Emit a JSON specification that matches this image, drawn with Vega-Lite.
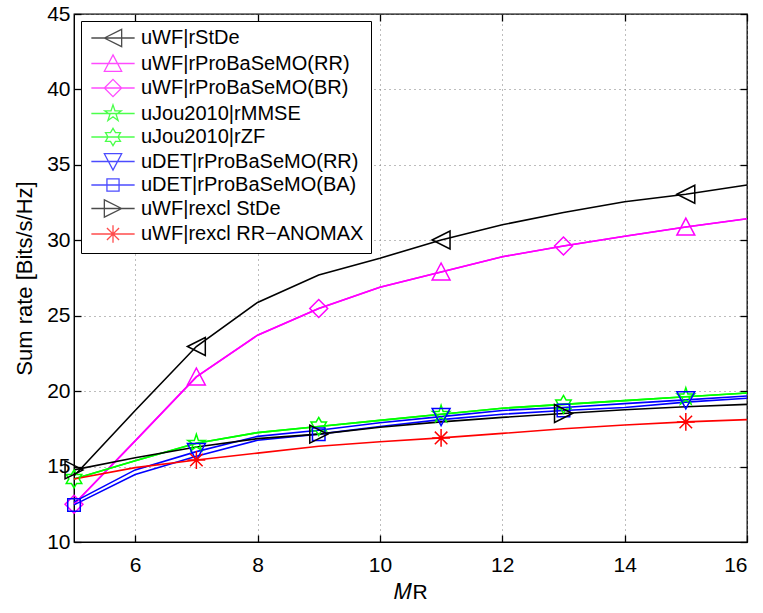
{
  "$schema": "https://vega.github.io/schema/vega-lite/v6.json",
  "width": 673,
  "height": 528,
  "autosize": {"type": "none"},
  "padding": {"left": 74, "top": 14, "right": 16, "bottom": 71},
  "background": "white",
  "config": {
    "font": "Liberation Sans",
    "view": {"stroke": "black", "strokeWidth": 1.3},
    "axis": {
      "labelFont": "Liberation Sans",
      "labelFontSize": 21,
      "labelColor": "black",
      "titleFont": "Liberation Sans",
      "titleFontSize": 21,
      "titleFontWeight": "normal",
      "titleColor": "black",
      "domainColor": "black",
      "tickColor": "black",
      "tickSize": -7,
      "tickWidth": 1.3,
      "grid": true,
      "gridColor": "#7a7a7a",
      "gridDash": [1, 4],
      "gridWidth": 1
    },
    "legend": {
      "labelFont": "Liberation Sans",
      "labelFontSize": 20,
      "labelColor": "black",
      "labelLimit": 400
    }
  },
  "datasets": {
    "lines": [
      {"series": "uWF|rStDe", "x": 5, "y": 14.38}, {"series": "uWF|rStDe", "x": 6, "y": 18.72}, {"series": "uWF|rStDe", "x": 7, "y": 22.96}, {"series": "uWF|rStDe", "x": 8, "y": 25.88}, {"series": "uWF|rStDe", "x": 9, "y": 27.7}, {"series": "uWF|rStDe", "x": 10, "y": 28.81}, {"series": "uWF|rStDe", "x": 11, "y": 30.02}, {"series": "uWF|rStDe", "x": 12, "y": 31.03}, {"series": "uWF|rStDe", "x": 13, "y": 31.84}, {"series": "uWF|rStDe", "x": 14, "y": 32.55}, {"series": "uWF|rStDe", "x": 15, "y": 33.05}, {"series": "uWF|rStDe", "x": 16, "y": 33.66},
      {"series": "uWF|rProBaSeMO(RR)", "x": 5, "y": 12.5}, {"series": "uWF|rProBaSeMO(RR)", "x": 6, "y": 16.7}, {"series": "uWF|rProBaSeMO(RR)", "x": 7, "y": 20.94}, {"series": "uWF|rProBaSeMO(RR)", "x": 8, "y": 23.71}, {"series": "uWF|rProBaSeMO(RR)", "x": 9, "y": 25.48}, {"series": "uWF|rProBaSeMO(RR)", "x": 10, "y": 26.89}, {"series": "uWF|rProBaSeMO(RR)", "x": 11, "y": 27.9}, {"series": "uWF|rProBaSeMO(RR)", "x": 12, "y": 28.91}, {"series": "uWF|rProBaSeMO(RR)", "x": 13, "y": 29.62}, {"series": "uWF|rProBaSeMO(RR)", "x": 14, "y": 30.27}, {"series": "uWF|rProBaSeMO(RR)", "x": 15, "y": 30.88}, {"series": "uWF|rProBaSeMO(RR)", "x": 16, "y": 31.43},
      {"series": "uWF|rProBaSeMO(BR)", "x": 5, "y": 12.5}, {"series": "uWF|rProBaSeMO(BR)", "x": 6, "y": 16.7}, {"series": "uWF|rProBaSeMO(BR)", "x": 7, "y": 20.94}, {"series": "uWF|rProBaSeMO(BR)", "x": 8, "y": 23.71}, {"series": "uWF|rProBaSeMO(BR)", "x": 9, "y": 25.48}, {"series": "uWF|rProBaSeMO(BR)", "x": 10, "y": 26.89}, {"series": "uWF|rProBaSeMO(BR)", "x": 11, "y": 27.9}, {"series": "uWF|rProBaSeMO(BR)", "x": 12, "y": 28.91}, {"series": "uWF|rProBaSeMO(BR)", "x": 13, "y": 29.62}, {"series": "uWF|rProBaSeMO(BR)", "x": 14, "y": 30.27}, {"series": "uWF|rProBaSeMO(BR)", "x": 15, "y": 30.88}, {"series": "uWF|rProBaSeMO(BR)", "x": 16, "y": 31.43},
      {"series": "uJou2010|rMMSE", "x": 5, "y": 14.18}, {"series": "uJou2010|rMMSE", "x": 6, "y": 15.39}, {"series": "uJou2010|rMMSE", "x": 7, "y": 16.55}, {"series": "uJou2010|rMMSE", "x": 8, "y": 17.25}, {"series": "uJou2010|rMMSE", "x": 9, "y": 17.66}, {"series": "uJou2010|rMMSE", "x": 10, "y": 18.06}, {"series": "uJou2010|rMMSE", "x": 11, "y": 18.47}, {"series": "uJou2010|rMMSE", "x": 12, "y": 18.87}, {"series": "uJou2010|rMMSE", "x": 13, "y": 19.12}, {"series": "uJou2010|rMMSE", "x": 14, "y": 19.37}, {"series": "uJou2010|rMMSE", "x": 15, "y": 19.63}, {"series": "uJou2010|rMMSE", "x": 16, "y": 19.88},
      {"series": "uJou2010|rZF", "x": 5, "y": 14.18}, {"series": "uJou2010|rZF", "x": 6, "y": 15.39}, {"series": "uJou2010|rZF", "x": 7, "y": 16.55}, {"series": "uJou2010|rZF", "x": 8, "y": 17.25}, {"series": "uJou2010|rZF", "x": 9, "y": 17.66}, {"series": "uJou2010|rZF", "x": 10, "y": 18.06}, {"series": "uJou2010|rZF", "x": 11, "y": 18.47}, {"series": "uJou2010|rZF", "x": 12, "y": 18.87}, {"series": "uJou2010|rZF", "x": 13, "y": 19.12}, {"series": "uJou2010|rZF", "x": 14, "y": 19.37}, {"series": "uJou2010|rZF", "x": 15, "y": 19.63}, {"series": "uJou2010|rZF", "x": 16, "y": 19.88},
      {"series": "uDET|rProBaSeMO(RR)", "x": 5, "y": 12.66}, {"series": "uDET|rProBaSeMO(RR)", "x": 6, "y": 14.78}, {"series": "uDET|rProBaSeMO(RR)", "x": 7, "y": 15.99}, {"series": "uDET|rProBaSeMO(RR)", "x": 8, "y": 17.0}, {"series": "uDET|rProBaSeMO(RR)", "x": 9, "y": 17.41}, {"series": "uDET|rProBaSeMO(RR)", "x": 10, "y": 17.91}, {"series": "uDET|rProBaSeMO(RR)", "x": 11, "y": 18.31}, {"series": "uDET|rProBaSeMO(RR)", "x": 12, "y": 18.72}, {"series": "uDET|rProBaSeMO(RR)", "x": 13, "y": 18.92}, {"series": "uDET|rProBaSeMO(RR)", "x": 14, "y": 19.17}, {"series": "uDET|rProBaSeMO(RR)", "x": 15, "y": 19.42}, {"series": "uDET|rProBaSeMO(RR)", "x": 16, "y": 19.68},
      {"series": "uDET|rProBaSeMO(BA)", "x": 5, "y": 12.46}, {"series": "uDET|rProBaSeMO(BA)", "x": 6, "y": 14.48}, {"series": "uDET|rProBaSeMO(BA)", "x": 7, "y": 15.69}, {"series": "uDET|rProBaSeMO(BA)", "x": 8, "y": 16.75}, {"series": "uDET|rProBaSeMO(BA)", "x": 9, "y": 17.15}, {"series": "uDET|rProBaSeMO(BA)", "x": 10, "y": 17.66}, {"series": "uDET|rProBaSeMO(BA)", "x": 11, "y": 18.11}, {"series": "uDET|rProBaSeMO(BA)", "x": 12, "y": 18.47}, {"series": "uDET|rProBaSeMO(BA)", "x": 13, "y": 18.72}, {"series": "uDET|rProBaSeMO(BA)", "x": 14, "y": 18.92}, {"series": "uDET|rProBaSeMO(BA)", "x": 15, "y": 19.27}, {"series": "uDET|rProBaSeMO(BA)", "x": 16, "y": 19.53},
      {"series": "uWF|rexcl StDe", "x": 5, "y": 14.78}, {"series": "uWF|rexcl StDe", "x": 6, "y": 15.59}, {"series": "uWF|rexcl StDe", "x": 7, "y": 16.3}, {"series": "uWF|rexcl StDe", "x": 8, "y": 16.85}, {"series": "uWF|rexcl StDe", "x": 9, "y": 17.15}, {"series": "uWF|rexcl StDe", "x": 10, "y": 17.61}, {"series": "uWF|rexcl StDe", "x": 11, "y": 17.96}, {"series": "uWF|rexcl StDe", "x": 12, "y": 18.26}, {"series": "uWF|rexcl StDe", "x": 13, "y": 18.52}, {"series": "uWF|rexcl StDe", "x": 14, "y": 18.77}, {"series": "uWF|rexcl StDe", "x": 15, "y": 18.97}, {"series": "uWF|rexcl StDe", "x": 16, "y": 19.12},
      {"series": "uWF|rexcl RR−ANOMAX", "x": 5, "y": 14.18}, {"series": "uWF|rexcl RR−ANOMAX", "x": 6, "y": 14.93}, {"series": "uWF|rexcl RR−ANOMAX", "x": 7, "y": 15.44}, {"series": "uWF|rexcl RR−ANOMAX", "x": 8, "y": 15.89}, {"series": "uWF|rexcl RR−ANOMAX", "x": 9, "y": 16.35}, {"series": "uWF|rexcl RR−ANOMAX", "x": 10, "y": 16.65}, {"series": "uWF|rexcl RR−ANOMAX", "x": 11, "y": 16.9}, {"series": "uWF|rexcl RR−ANOMAX", "x": 12, "y": 17.2}, {"series": "uWF|rexcl RR−ANOMAX", "x": 13, "y": 17.51}, {"series": "uWF|rexcl RR−ANOMAX", "x": 14, "y": 17.76}, {"series": "uWF|rexcl RR−ANOMAX", "x": 15, "y": 17.96}, {"series": "uWF|rexcl RR−ANOMAX", "x": 16, "y": 18.11}
    ],
    "markers": [
      {"series": "uWF|rStDe", "x": 7, "y": 22.96}, {"series": "uWF|rStDe", "x": 11, "y": 30.02}, {"series": "uWF|rStDe", "x": 15, "y": 33.05},
      {"series": "uWF|rProBaSeMO(RR)", "x": 7, "y": 20.94}, {"series": "uWF|rProBaSeMO(RR)", "x": 11, "y": 27.9}, {"series": "uWF|rProBaSeMO(RR)", "x": 15, "y": 30.88},
      {"series": "uWF|rProBaSeMO(BR)", "x": 5, "y": 12.5}, {"series": "uWF|rProBaSeMO(BR)", "x": 9, "y": 25.48}, {"series": "uWF|rProBaSeMO(BR)", "x": 13, "y": 29.62},
      {"series": "uJou2010|rMMSE", "x": 7, "y": 16.55}, {"series": "uJou2010|rMMSE", "x": 11, "y": 18.47}, {"series": "uJou2010|rMMSE", "x": 15, "y": 19.63},
      {"series": "uJou2010|rZF", "x": 5, "y": 14.18}, {"series": "uJou2010|rZF", "x": 9, "y": 17.66}, {"series": "uJou2010|rZF", "x": 13, "y": 19.12},
      {"series": "uDET|rProBaSeMO(RR)", "x": 7, "y": 15.99}, {"series": "uDET|rProBaSeMO(RR)", "x": 11, "y": 18.31}, {"series": "uDET|rProBaSeMO(RR)", "x": 15, "y": 19.42},
      {"series": "uDET|rProBaSeMO(BA)", "x": 5, "y": 12.46}, {"series": "uDET|rProBaSeMO(BA)", "x": 9, "y": 17.15}, {"series": "uDET|rProBaSeMO(BA)", "x": 13, "y": 18.72},
      {"series": "uWF|rexcl StDe", "x": 5, "y": 14.78}, {"series": "uWF|rexcl StDe", "x": 9, "y": 17.15}, {"series": "uWF|rexcl StDe", "x": 13, "y": 18.52},
      {"series": "uWF|rexcl RR−ANOMAX", "x": 7, "y": 15.44}, {"series": "uWF|rexcl RR−ANOMAX", "x": 11, "y": 16.9}, {"series": "uWF|rexcl RR−ANOMAX", "x": 15, "y": 17.96}
    ]
  },
  "layer": [
    {
      "data": {"name": "lines"},
      "mark": {"type": "line", "strokeWidth": 1.6, "interpolate": "linear"},
      "encoding": {
        "x": {"field": "x", "type": "quantitative", "scale": {"domain": [5, 16], "nice": false, "zero": false},
              "axis": {"values": [6, 8, 10, 12, 14, 16], "title": "𝑀R", "titlePadding": 6, "labelPadding": 19}},
        "y": {"field": "y", "type": "quantitative", "scale": {"domain": [10, 45], "nice": false, "zero": false},
              "axis": {"values": [10, 15, 20, 25, 30, 35, 40, 45], "title": "Sum rate [Bits/s/Hz]", "titlePadding": 10, "labelPadding": 11, "titleFontSize": 22}},
        "color": {"field": "series", "type": "nominal", "legend": null,
                  "scale": {"domain": ["uWF|rStDe", "uWF|rProBaSeMO(RR)", "uWF|rProBaSeMO(BR)", "uJou2010|rMMSE", "uJou2010|rZF", "uDET|rProBaSeMO(RR)", "uDET|rProBaSeMO(BA)", "uWF|rexcl StDe", "uWF|rexcl RR−ANOMAX"],
                            "range": ["#000000", "#ff00ff", "#ff00ff", "#00ff00", "#00ff00", "#0000ff", "#0000ff", "#000000", "#ff0000"]}}
      }
    },
    {
      "data": {"name": "markers"},
      "mark": {"type": "point", "filled": false, "size": 320, "strokeWidth": 1.5, "opacity": 1},
      "encoding": {
        "x": {"field": "x", "type": "quantitative", "axis": null},
        "y": {"field": "y", "type": "quantitative", "axis": null},
        "color": {"field": "series", "type": "nominal", "legend": null,
                  "scale": {"domain": ["uWF|rStDe", "uWF|rProBaSeMO(RR)", "uWF|rProBaSeMO(BR)", "uJou2010|rMMSE", "uJou2010|rZF", "uDET|rProBaSeMO(RR)", "uDET|rProBaSeMO(BA)", "uWF|rexcl StDe", "uWF|rexcl RR−ANOMAX"],
                            "range": ["#000000", "#ff00ff", "#ff00ff", "#00ff00", "#00ff00", "#0000ff", "#0000ff", "#000000", "#ff0000"]}},
        "shape": {"field": "series", "type": "nominal", "legend": null,
                  "scale": {"domain": ["uWF|rStDe", "uWF|rProBaSeMO(RR)", "uWF|rProBaSeMO(BR)", "uJou2010|rMMSE", "uJou2010|rZF", "uDET|rProBaSeMO(RR)", "uDET|rProBaSeMO(BA)", "uWF|rexcl StDe", "uWF|rexcl RR−ANOMAX"],
                            "range": [
                              "M-1,0L1,-1L1,1Z",
                              "M0,-1L1,0.9L-1,0.9Z",
                              "M0,-1L1,0L0,1L-1,0Z",
                              "M0,-1L0.225,-0.309L0.951,-0.309L0.363,0.118L0.588,0.809L0,0.382L-0.588,0.809L-0.363,0.118L-0.951,-0.309L-0.225,-0.309Z",
                              "M0,-1L0.289,-0.5L0.866,-0.5L0.577,0L0.866,0.5L0.289,0.5L0,1L-0.289,0.5L-0.866,0.5L-0.577,0L-0.866,-0.5L-0.289,-0.5Z",
                              "M-1,-0.9L1,-0.9L0,1Z",
                              "M-0.7,-0.7L0.7,-0.7L0.7,0.7L-0.7,0.7Z",
                              "M1,0L-1,-1L-1,1Z",
                              "M-1,0L1,0M0,-1L0,1M-0.7,-0.7L0.7,0.7M-0.7,0.7L0.7,-0.7"
                            ]}}
      }
    },
    {
      "data": {"name": "markers"},
      "transform": [{"filter": {"field": "x", "equal": -100}}],
      "mark": {"type": "point", "filled": false, "size": 300, "strokeWidth": 1.3},
      "encoding": {
        "x": {"field": "x", "type": "quantitative", "axis": {"orient": "top", "labels": false, "title": null, "grid": false, "domain": false, "values": [6, 8, 10, 12, 14, 16]}},
        "y": {"field": "y", "type": "quantitative", "axis": {"orient": "right", "labels": false, "title": null, "grid": false, "domain": false, "values": [10, 15, 20, 25, 30, 35, 40, 45]}},
        "color": {"field": "series", "type": "nominal",
                  "scale": {"domain": ["uWF|rStDe", "uWF|rProBaSeMO(RR)", "uWF|rProBaSeMO(BR)", "uJou2010|rMMSE", "uJou2010|rZF", "uDET|rProBaSeMO(RR)", "uDET|rProBaSeMO(BA)", "uWF|rexcl StDe", "uWF|rexcl RR−ANOMAX"],
                            "range": ["#000000", "#ff00ff", "#ff00ff", "#00ff00", "#00ff00", "#0000ff", "#0000ff", "#000000", "#ff0000"]},
                  "legend": {"title": null, "orient": "top-left", "offset": 7, "padding": 7, "fillColor": "white", "strokeColor": "black", "symbolSize": 300, "symbolStrokeWidth": 1.3, "symbolOffset": 15, "labelOffset": 18, "rowPadding": 1.5}},
        "shape": {"field": "series", "type": "nominal",
                  "scale": {"domain": ["uWF|rStDe", "uWF|rProBaSeMO(RR)", "uWF|rProBaSeMO(BR)", "uJou2010|rMMSE", "uJou2010|rZF", "uDET|rProBaSeMO(RR)", "uDET|rProBaSeMO(BA)", "uWF|rexcl StDe", "uWF|rexcl RR−ANOMAX"],
                            "range": [
                              "M-2.5,0L2.5,0M-1,0L1,-1L1,1Z",
                              "M-2.5,0L2.5,0M0,-1L1,0.9L-1,0.9Z",
                              "M-2.5,0L2.5,0M0,-1L1,0L0,1L-1,0Z",
                              "M-2.5,0L2.5,0M0,-1L0.225,-0.309L0.951,-0.309L0.363,0.118L0.588,0.809L0,0.382L-0.588,0.809L-0.363,0.118L-0.951,-0.309L-0.225,-0.309Z",
                              "M-2.5,0L2.5,0M0,-1L0.289,-0.5L0.866,-0.5L0.577,0L0.866,0.5L0.289,0.5L0,1L-0.289,0.5L-0.866,0.5L-0.577,0L-0.866,-0.5L-0.289,-0.5Z",
                              "M-2.5,0L2.5,0M-1,-0.9L1,-0.9L0,1Z",
                              "M-2.5,0L2.5,0M-0.7,-0.7L0.7,-0.7L0.7,0.7L-0.7,0.7Z",
                              "M-2.5,0L2.5,0M1,0L-1,-1L-1,1Z",
                              "M-2.5,0L2.5,0M-1,0L1,0M0,-1L0,1M-0.7,-0.7L0.7,0.7M-0.7,0.7L0.7,-0.7"
                            ]}}
      }
    }
  ],
  "resolve": {"scale": {"color": "independent", "shape": "independent"}, "axis": {"x": "independent", "y": "independent"}}
}
